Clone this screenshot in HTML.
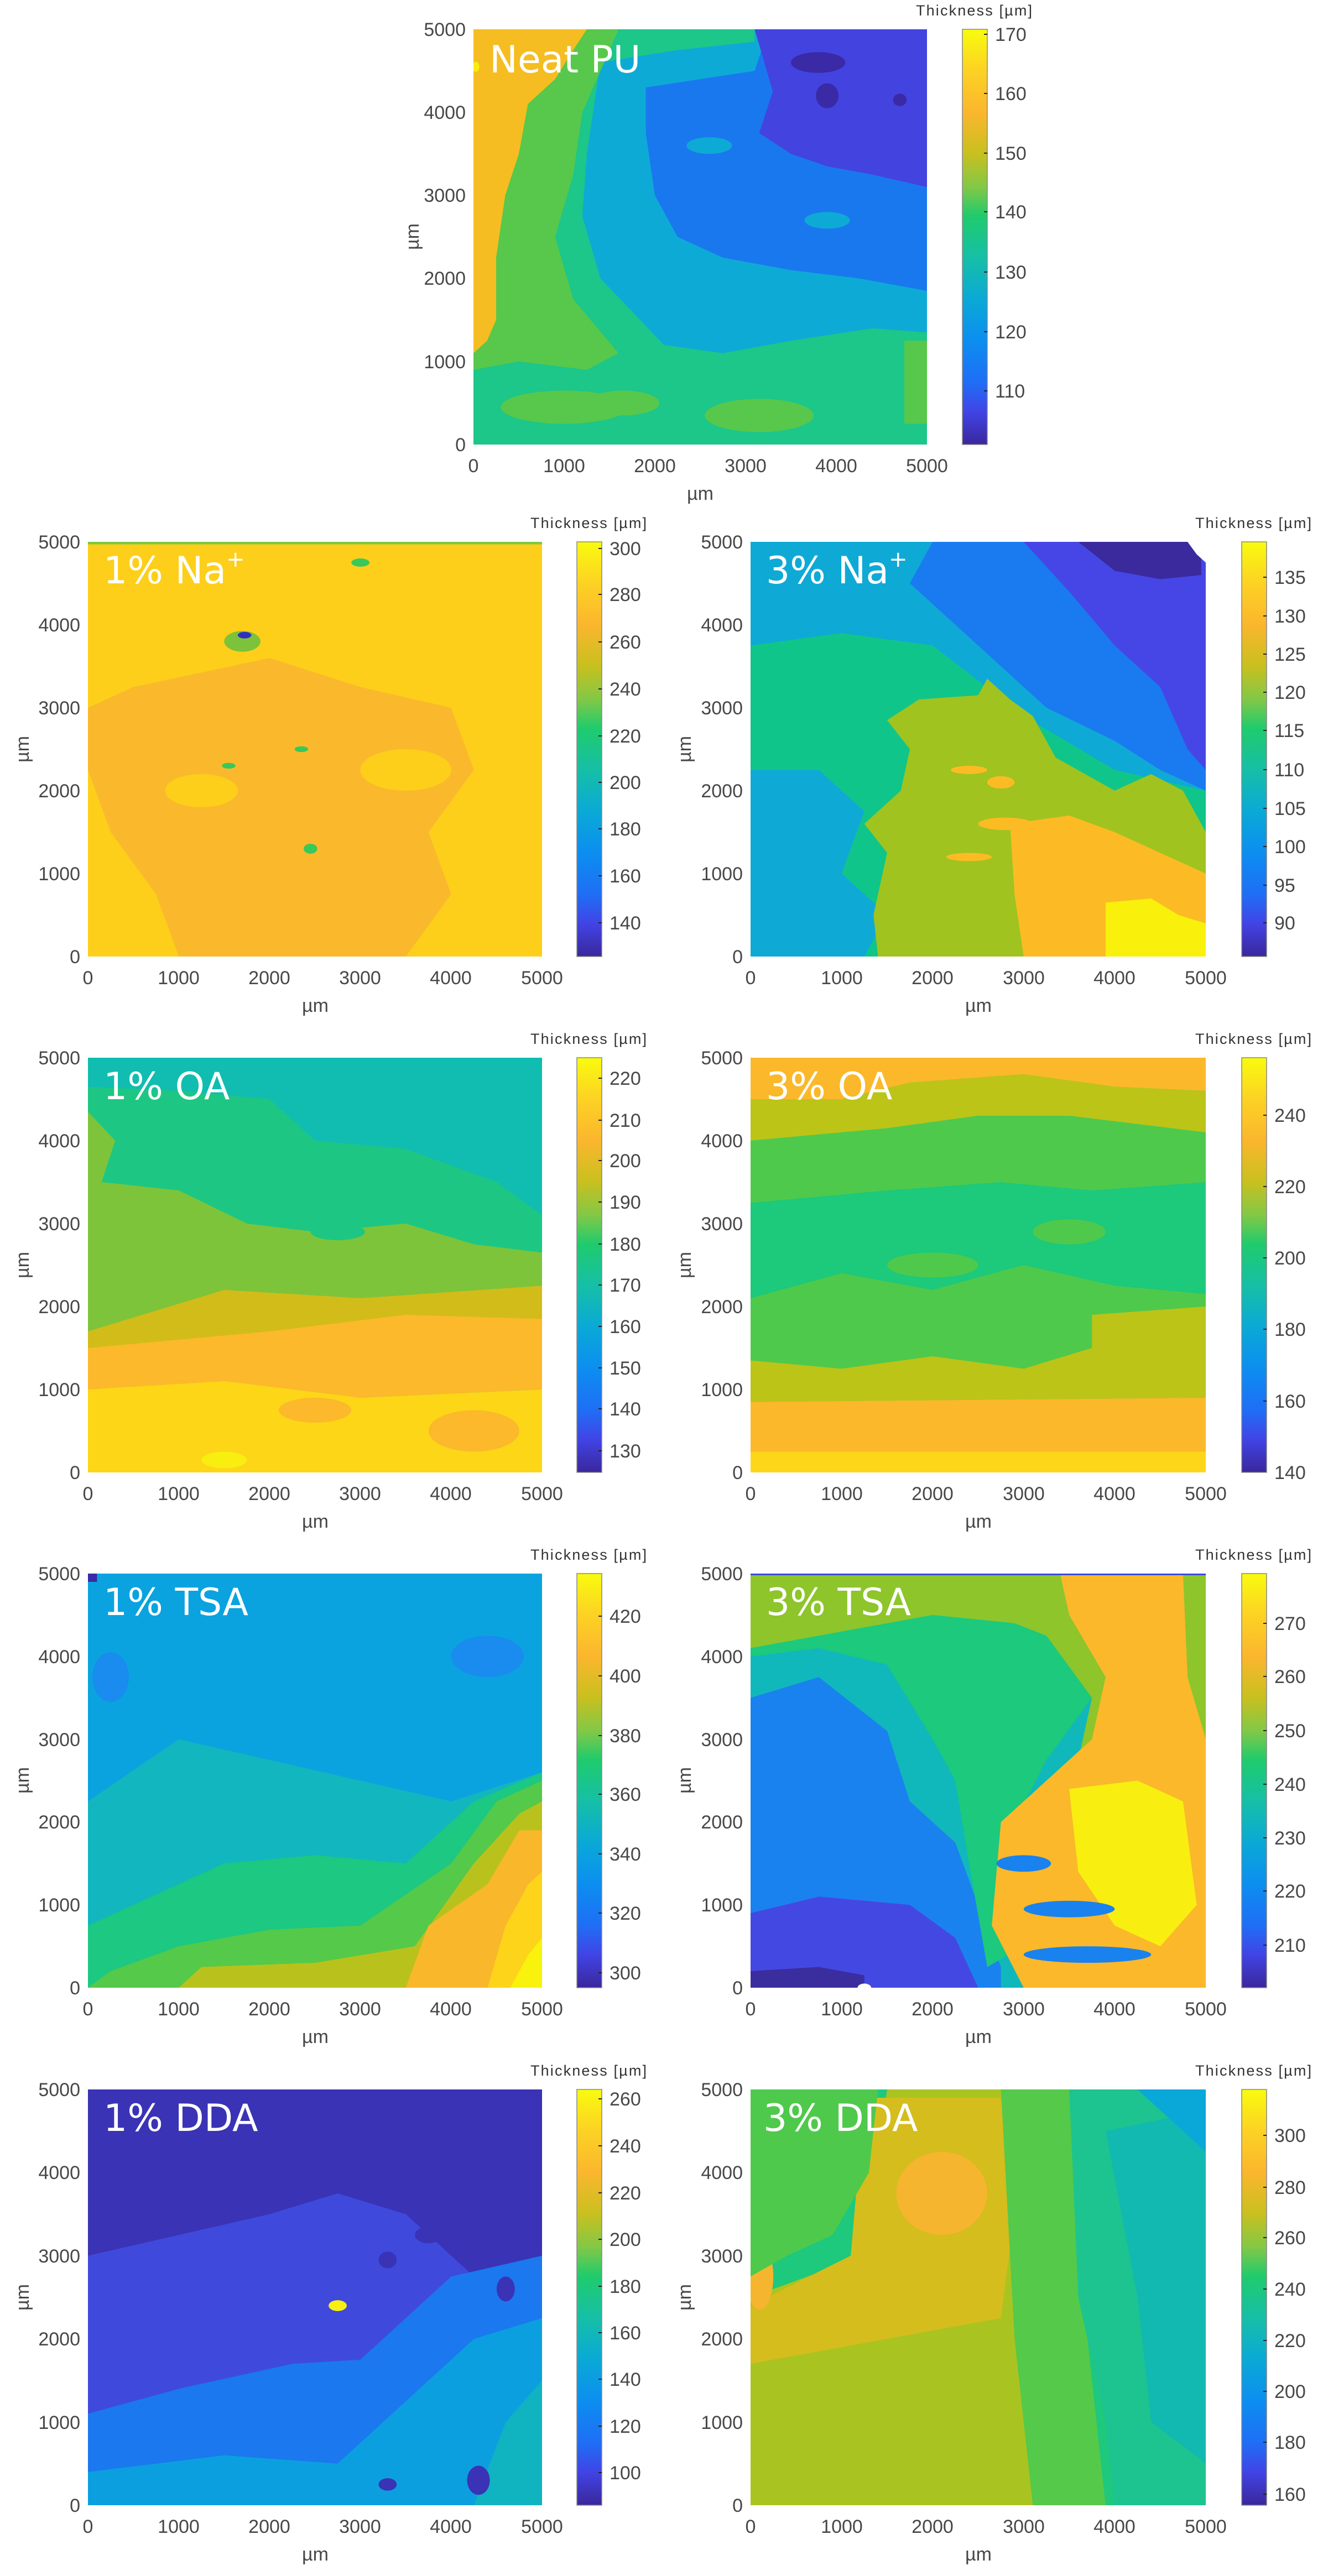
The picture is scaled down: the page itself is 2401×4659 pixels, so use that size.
<!DOCTYPE html>
<html><head><meta charset="utf-8"><style>
html,body{margin:0;padding:0;background:#fff;}
svg text{font-family:"Liberation Sans",Arial,sans-serif;}
.t{font-size:34px;fill:#474747;}
.ti{font-size:27px;fill:#333;}
.an{font-family:"DejaVu Sans",sans-serif !important;font-size:68px;fill:#fff;}
.cb{stroke:#888;stroke-width:1.5;}
</style></head><body>
<svg width="2401" height="4654" viewBox="0 0 2401 4654" xmlns="http://www.w3.org/2000/svg">
<defs>
<linearGradient id="par" x1="0" y1="0" x2="0" y2="1">
<stop offset="0" stop-color="#f9fb0e"/><stop offset="0.1" stop-color="#fcd224"/><stop offset="0.2" stop-color="#fbb62e"/><stop offset="0.3" stop-color="#c8c01f"/><stop offset="0.38" stop-color="#82c846"/><stop offset="0.45" stop-color="#1fcb6d"/><stop offset="0.55" stop-color="#16bfa6"/><stop offset="0.65" stop-color="#0aa9d6"/><stop offset="0.75" stop-color="#0c8ef0"/><stop offset="0.85" stop-color="#1f6ef5"/><stop offset="0.92" stop-color="#4144e6"/><stop offset="1" stop-color="#3a279c"/>
</linearGradient>
</defs>

<!-- ===== Neat PU ===== -->
<svg x="856" y="53" width="820" height="751" viewBox="0 0 100 100" preserveAspectRatio="none">
<rect width="100" height="100" fill="#1dc689"/>
<path d="M28,8 L45,5 L62,3 L62,0 L100,0 L100,73 L88,72 L70,75 L55,78 L42,76 L35,68 L28,60 L24,45 L25,30 Z" fill="#0eaad6"/>
<path d="M38,14 L62,10 L65,0 L100,0 L100,63 L85,60 L70,58 L55,55 L45,50 L40,40 L38,25 Z" fill="#1a78ef"/>
<ellipse cx="52" cy="28" rx="5" ry="2" fill="#0eaad6"/><ellipse cx="78" cy="46" rx="5" ry="2" fill="#0eaad6"/>
<path d="M62,0 L100,0 L100,38 L88,35 L78,33 L70,30 L63,25 L66,15 Z" fill="#4343e0"/>
<ellipse cx="76" cy="8" rx="6" ry="2.5" fill="#3a2aa5"/><ellipse cx="78" cy="16" rx="2.5" ry="3" fill="#3a2aa5"/><ellipse cx="94" cy="17" rx="1.5" ry="1.5" fill="#3a2aa5"/>
<path d="M0,0 L32,0 L28,10 L24,20 L22,35 L18,50 L22,65 L32,78 L25,82 L10,80 L0,82 Z" fill="#57c84b"/>
<path d="M0,0 L25,0 L22,5 L18,12 L12,18 L10,30 L7,40 L5,55 L5,70 L3,75 L0,78 Z" fill="#f5bd21"/>
<ellipse cx="0.5" cy="9" rx="0.8" ry="1.2" fill="#f8ef10"/>
<ellipse cx="20" cy="91" rx="14" ry="4" fill="#57c84b"/><ellipse cx="33" cy="90" rx="8" ry="3" fill="#57c84b"/><ellipse cx="63" cy="93" rx="12" ry="4" fill="#57c84b"/><rect x="95" y="75" width="5" height="20" fill="#57c84b"/>
</svg>
<text class="an" x="885" y="131">Neat PU</text>
<g class="t" text-anchor="end"><text x="842" y="65">5000</text><text x="842" y="215">4000</text><text x="842" y="365">3000</text><text x="842" y="515">2000</text><text x="842" y="666">1000</text><text x="842" y="816">0</text></g>
<g class="t" text-anchor="middle"><text x="856" y="854">0</text><text x="1020" y="854">1000</text><text x="1184" y="854">2000</text><text x="1348" y="854">3000</text><text x="1512" y="854">4000</text><text x="1676" y="854">5000</text><text x="1266" y="904">µm</text></g>
<text class="t" text-anchor="middle" transform="translate(757,428) rotate(-90)">µm</text>
<rect class="cb" x="1740" y="53" width="45" height="751" fill="url(#par)"/>
<g stroke="#222" stroke-width="2"><path d="M1779,62h6M1779,169h6M1779,277h6M1779,383h6M1779,492h6M1779,600h6M1779,707h6"/></g>
<g class="t"><text x="1799" y="74">170</text><text x="1799" y="181">160</text><text x="1799" y="289">150</text><text x="1799" y="395">140</text><text x="1799" y="504">130</text><text x="1799" y="612">120</text><text x="1799" y="719">110</text></g>
<text class="ti" x="1656" y="28" textLength="210">Thickness [µm]</text>

<!-- ===== 1% Na ===== -->
<svg x="159" y="980" width="821" height="750" viewBox="0 0 100 100" preserveAspectRatio="none">
<rect width="100" height="100" fill="#fdcf1a"/>
<path d="M10,35 L40,28 L60,35 L80,40 L85,55 L75,70 L80,85 L70,100 L20,100 L15,85 L5,70 L0,55 L0,40 Z" fill="#fab92c"/>
<ellipse cx="70" cy="55" rx="10" ry="5" fill="#fdcf1a"/><ellipse cx="25" cy="60" rx="8" ry="4" fill="#fdcf1a"/>
<ellipse cx="34" cy="24" rx="4" ry="2.5" fill="#7cc23a"/><ellipse cx="34.5" cy="22.5" rx="1.5" ry="0.8" fill="#3030c0"/>
<ellipse cx="60" cy="5" rx="2" ry="1" fill="#39c85a"/><ellipse cx="31" cy="54" rx="1.5" ry="0.7" fill="#39c85a"/><ellipse cx="47" cy="50" rx="1.5" ry="0.7" fill="#39c85a"/><ellipse cx="49" cy="74" rx="1.5" ry="1.2" fill="#39c85a"/>
<rect width="100" height="0.6" fill="#7cc840"/>
</svg>
<text class="an" x="187" y="1055">1% Na<tspan font-size="40" dy="-30">+</tspan></text>

<!-- ===== 3% Na ===== -->
<svg x="1357" y="980" width="823" height="750" viewBox="0 0 100 100" preserveAspectRatio="none">
<rect width="100" height="100" fill="#10c58a"/>
<path d="M0,0 L100,0 L100,60 L80,55 L60,42 L40,25 L20,22 L0,25 Z" fill="#0fa9d6"/>
<path d="M0,55 L15,55 L25,65 L20,80 L30,90 L25,100 L0,100 Z" fill="#0fa9d6"/>
<path d="M40,0 L100,0 L100,60 L90,55 L80,48 L65,40 L55,30 L45,20 L35,10 Z" fill="#1a7af0"/>
<path d="M60,0 L100,0 L100,55 L96,50 L90,35 L80,25 L70,12 Z" fill="#4646e6"/>
<path d="M72,0 L99,0 L99,8 L90,9 L80,7 Z" fill="#3a2a9e"/>
<path d="M96,0 L100,0 L100,5 L98,3 Z" fill="#fff"/>
<path d="M30,43 L37,38 L50,37 L52,33 L57,38 L62,42 L67,52 L80,60 L88,56 L95,60 L100,70 L100,100 L28,100 L27,90 L30,75 L25,68 L33,60 L35,50 Z" fill="#a0c31f"/>
<path d="M57,68 L70,66 L80,70 L90,75 L100,80 L100,100 L60,100 L58,85 Z" fill="#fcbb24"/>
<ellipse cx="48" cy="55" rx="4" ry="1" fill="#fcbb24"/><ellipse cx="55" cy="58" rx="3" ry="1.5" fill="#fcbb24"/><ellipse cx="48" cy="76" rx="5" ry="1" fill="#fcbb24"/><ellipse cx="56" cy="68" rx="6" ry="1.5" fill="#fcbb24"/>
<path d="M78,87 L88,86 L94,90 L100,92 L100,100 L78,100 Z" fill="#f9f10c"/>
</svg>
<text class="an" x="1385" y="1055">3% Na<tspan font-size="40" dy="-30">+</tspan></text>

<!-- ===== 1% OA ===== -->
<svg x="159" y="1913" width="821" height="750" viewBox="0 0 100 100" preserveAspectRatio="none">
<rect width="100" height="100" fill="#1dc783"/>
<path d="M0,0 L100,0 L100,38 L90,30 L70,22 L50,20 L40,10 L20,8 L0,7 Z" fill="#10bdb0"/>
<path d="M0,13 L6,20 L3,30 L20,32 L35,40 L50,42 L70,40 L85,45 L100,47 L100,60 L60,62 L0,66 Z" fill="#7dc43a"/>
<ellipse cx="10" cy="25" rx="4" ry="3" fill="#1dc783"/><ellipse cx="55" cy="42" rx="6" ry="2" fill="#1dc783"/>
<path d="M0,66 L30,56 L60,58 L100,55 L100,68 L60,68 L0,72 Z" fill="#d2bc1a"/>
<path d="M0,70 L40,66 L70,62 L100,63 L100,80 L60,82 L0,80 Z" fill="#fbb92b"/>
<path d="M0,80 L30,78 L60,82 L100,80 L100,100 L0,100 Z" fill="#fdd617"/>
<ellipse cx="85" cy="90" rx="10" ry="5" fill="#fbb92b"/><ellipse cx="50" cy="85" rx="8" ry="3" fill="#fbb92b"/>
<ellipse cx="30" cy="97" rx="5" ry="2" fill="#f8ee10"/>
</svg>
<text class="an" x="187" y="1988">1% OA</text>

<!-- ===== 3% OA ===== -->
<svg x="1357" y="1913" width="823" height="750" viewBox="0 0 100 100" preserveAspectRatio="none">
<rect width="100" height="100" fill="#1dc97b"/>
<path d="M0,0 L100,0 L100,8 L80,7 L60,4 L35,6 L20,10 L0,10 Z" fill="#fbb82a"/>
<path d="M0,10 L20,10 L35,6 L60,4 L80,7 L100,8 L100,18 L70,14 L50,14 L30,17 L0,20 Z" fill="#bcc418"/>
<path d="M0,20 L30,17 L50,14 L70,14 L100,18 L100,30 L75,32 L55,30 L30,32 L0,35 Z" fill="#4fc94b"/>
<ellipse cx="40" cy="50" rx="10" ry="3" fill="#4fc94b"/><ellipse cx="70" cy="42" rx="8" ry="3" fill="#4fc94b"/>
<path d="M0,58 L20,52 L40,56 L60,50 L80,55 L100,57 L100,72 L80,73 L60,75 L40,72 L20,75 L0,73 Z" fill="#4fc94b"/>
<path d="M0,73 L20,75 L40,72 L60,75 L75,70 L75,62 L100,60 L100,82 L0,83 Z" fill="#bcc418"/>
<path d="M0,83 L100,82 L100,95 L0,95 Z" fill="#fbb82a"/>
<rect x="0" y="95" width="100" height="5" fill="#fdd619"/>
</svg>
<text class="an" x="1385" y="1988">3% OA</text>

<!-- ===== 1% TSA ===== -->
<svg x="159" y="2846" width="821" height="749" viewBox="0 0 100 100" preserveAspectRatio="none">
<rect width="100" height="100" fill="#12b6be"/>
<path d="M0,0 L100,0 L100,48 L80,55 L60,50 L40,45 L20,40 L0,55 Z" fill="#0aa3df"/>
<ellipse cx="88" cy="20" rx="8" ry="5" fill="#1a8bef"/><ellipse cx="5" cy="25" rx="4" ry="6" fill="#1a8bef"/>
<path d="M0,85 L10,80 L30,70 L50,68 L70,70 L85,55 L100,48 L100,100 L0,100 Z" fill="#1cc882"/>
<path d="M0,100 L5,96 L20,90 L40,86 L60,85 L80,70 L90,55 L100,50 L100,100 Z" fill="#55c94a"/>
<path d="M20,100 L25,95 L50,94 L72,90 L85,70 L95,58 L100,55 L100,100 Z" fill="#b9c21d"/>
<path d="M70,100 L75,85 L88,75 L95,62 L100,62 L100,100 Z" fill="#f9b72c"/>
<path d="M88,100 L92,85 L97,75 L100,72 L100,100 Z" fill="#fdd419"/>
<path d="M93,100 L97,92 L100,88 L100,100 Z" fill="#f8f20d"/>
<rect x="0" y="0" width="2" height="2" fill="#3a2aa5"/>
</svg>
<text class="an" x="187" y="2921">1% TSA</text>

<!-- ===== 3% TSA ===== -->
<svg x="1357" y="2846" width="823" height="749" viewBox="0 0 100 100" preserveAspectRatio="none">
<rect width="100" height="100" fill="#10b8bb"/>
<path d="M0,30 L15,25 L30,38 L35,55 L45,65 L50,80 L55,95 L55,100 L0,100 Z" fill="#1a82ee"/>
<path d="M0,82 L15,78 L35,80 L45,88 L50,100 L0,100 Z" fill="#4448e3"/>
<path d="M0,96 L15,95 L25,97 L25,100 L0,100 Z" fill="#3a2d9e"/>
<path d="M0,10 L60,5 L70,15 L75,30 L65,45 L58,60 L55,75 L60,90 L52,95 L48,70 L45,50 L40,40 L30,22 L15,18 L0,20 Z" fill="#1cc97d"/>
<path d="M0,0 L100,0 L100,60 L80,55 L72,45 L75,30 L65,15 L58,12 L40,10 L20,14 L0,18 Z" fill="#8dc52b"/>
<path d="M68,0 L95,0 L96,25 L100,40 L100,100 L60,100 L53,85 L55,60 L65,50 L75,40 L78,25 L70,10 Z" fill="#fbb82a"/>
<path d="M70,52 L85,50 L95,55 L98,80 L90,90 L80,85 L72,72 Z" fill="#f8ef10"/>
<ellipse cx="60" cy="70" rx="6" ry="2" fill="#1a82ee"/><ellipse cx="70" cy="81" rx="10" ry="2" fill="#1a82ee"/><ellipse cx="74" cy="92" rx="14" ry="2" fill="#1a82ee"/>
<rect width="100" height="0.4" fill="#3a4ad8"/>
<ellipse cx="25" cy="100" rx="1.5" ry="1" fill="#fff"/>
</svg>
<text class="an" x="1385" y="2921">3% TSA</text>

<!-- ===== 1% DDA ===== -->
<svg x="159" y="3779" width="821" height="752" viewBox="0 0 100 100" preserveAspectRatio="none">
<rect width="100" height="100" fill="#3f4adc"/>
<path d="M0,0 L100,0 L100,40 L85,45 L70,30 L55,25 L40,30 L20,35 L0,40 Z" fill="#3a33b5"/>
<path d="M0,78 L20,72 L45,66 L60,65 L70,55 L80,45 L100,40 L100,100 L0,100 Z" fill="#1b78ef"/>
<path d="M0,92 L30,88 L55,90 L70,75 L85,60 L100,55 L100,100 L0,100 Z" fill="#0c9fe0"/>
<path d="M85,100 L92,80 L100,70 L100,100 Z" fill="#10b3c0"/>
<ellipse cx="86" cy="94" rx="2.5" ry="3.5" fill="#3a33b5"/><ellipse cx="66" cy="95" rx="2" ry="1.5" fill="#3a33b5"/><ellipse cx="66" cy="41" rx="2" ry="2" fill="#3a33b5"/><ellipse cx="92" cy="48" rx="2" ry="3" fill="#3a33b5"/><ellipse cx="75" cy="35" rx="3" ry="2" fill="#3a33b5"/>
<ellipse cx="55" cy="52" rx="2" ry="1.3" fill="#f8f00e"/>
</svg>
<text class="an" x="187" y="3854">1% DDA</text>

<!-- ===== 3% DDA ===== -->
<svg x="1357" y="3779" width="823" height="752" viewBox="0 0 100 100" preserveAspectRatio="none">
<rect width="100" height="100" fill="#1ec87d"/>
<path d="M0,50 L25,40 L30,0 L55,0 L60,30 L62,60 L68,100 L0,100 Z" fill="#a9c420"/>
<path d="M25,2 L55,2 L58,30 L55,55 L40,58 L20,62 L0,66 L0,52 L22,40 Z" fill="#d4bd1c"/>
<ellipse cx="42" cy="25" rx="10" ry="10" fill="#f6b52e"/><ellipse cx="2" cy="45" rx="3" ry="8" fill="#f6b52e"/>
<path d="M0,0 L28,0 L26,20 L18,35 L8,40 L0,45 Z" fill="#4fc94b"/>
<path d="M55,0 L70,0 L72,40 L75,70 L78,100 L62,100 L58,60 Z" fill="#55c94a"/>
<path d="M70,0 L100,0 L100,100 L80,100 L78,80 L72,50 Z" fill="#1dc48f"/>
<path d="M78,10 L100,5 L100,90 L88,80 L85,50 Z" fill="#12b9b0"/>
<path d="M85,0 L100,0 L100,15 Z" fill="#0aa8d8"/>
</svg>
<text class="an" x="1380" y="3854">3% DDA</text>

<!-- ===== Axes ===== -->
<g class="t" text-anchor="end">
<text x="145" y="992">5000</text><text x="145" y="1142">4000</text><text x="145" y="1292">3000</text><text x="145" y="1442">2000</text><text x="145" y="1592">1000</text><text x="145" y="1742">0</text>
<text x="145" y="1925">5000</text><text x="145" y="2075">4000</text><text x="145" y="2225">3000</text><text x="145" y="2375">2000</text><text x="145" y="2525">1000</text><text x="145" y="2675">0</text>
<text x="145" y="2858">5000</text><text x="145" y="3008">4000</text><text x="145" y="3158">3000</text><text x="145" y="3307">2000</text><text x="145" y="3457">1000</text><text x="145" y="3607">0</text>
<text x="145" y="3791">5000</text><text x="145" y="3941">4000</text><text x="145" y="4092">3000</text><text x="145" y="4242">2000</text><text x="145" y="4393">1000</text><text x="145" y="4543">0</text>
<text x="1343" y="992">5000</text><text x="1343" y="1142">4000</text><text x="1343" y="1292">3000</text><text x="1343" y="1442">2000</text><text x="1343" y="1592">1000</text><text x="1343" y="1742">0</text>
<text x="1343" y="1925">5000</text><text x="1343" y="2075">4000</text><text x="1343" y="2225">3000</text><text x="1343" y="2375">2000</text><text x="1343" y="2525">1000</text><text x="1343" y="2675">0</text>
<text x="1343" y="2858">5000</text><text x="1343" y="3008">4000</text><text x="1343" y="3158">3000</text><text x="1343" y="3307">2000</text><text x="1343" y="3457">1000</text><text x="1343" y="3607">0</text>
<text x="1343" y="3791">5000</text><text x="1343" y="3941">4000</text><text x="1343" y="4092">3000</text><text x="1343" y="4242">2000</text><text x="1343" y="4393">1000</text><text x="1343" y="4543">0</text>
</g>
<g class="t" text-anchor="middle">
<text x="159" y="1780">0</text><text x="323" y="1780">1000</text><text x="487" y="1780">2000</text><text x="651" y="1780">3000</text><text x="815" y="1780">4000</text><text x="980" y="1780">5000</text><text x="570" y="1830">µm</text>
<text x="1357" y="1780">0</text><text x="1522" y="1780">1000</text><text x="1686" y="1780">2000</text><text x="1851" y="1780">3000</text><text x="2015" y="1780">4000</text><text x="2180" y="1780">5000</text><text x="1769" y="1830">µm</text>
<text x="159" y="2713">0</text><text x="323" y="2713">1000</text><text x="487" y="2713">2000</text><text x="651" y="2713">3000</text><text x="815" y="2713">4000</text><text x="980" y="2713">5000</text><text x="570" y="2763">µm</text>
<text x="1357" y="2713">0</text><text x="1522" y="2713">1000</text><text x="1686" y="2713">2000</text><text x="1851" y="2713">3000</text><text x="2015" y="2713">4000</text><text x="2180" y="2713">5000</text><text x="1769" y="2763">µm</text>
<text x="159" y="3645">0</text><text x="323" y="3645">1000</text><text x="487" y="3645">2000</text><text x="651" y="3645">3000</text><text x="815" y="3645">4000</text><text x="980" y="3645">5000</text><text x="570" y="3695">µm</text>
<text x="1357" y="3645">0</text><text x="1522" y="3645">1000</text><text x="1686" y="3645">2000</text><text x="1851" y="3645">3000</text><text x="2015" y="3645">4000</text><text x="2180" y="3645">5000</text><text x="1769" y="3695">µm</text>
<text x="159" y="4581">0</text><text x="323" y="4581">1000</text><text x="487" y="4581">2000</text><text x="651" y="4581">3000</text><text x="815" y="4581">4000</text><text x="980" y="4581">5000</text><text x="570" y="4631">µm</text>
<text x="1357" y="4581">0</text><text x="1522" y="4581">1000</text><text x="1686" y="4581">2000</text><text x="1851" y="4581">3000</text><text x="2015" y="4581">4000</text><text x="2180" y="4581">5000</text><text x="1769" y="4631">µm</text>
</g>
<g class="t" text-anchor="middle">
<text transform="translate(52,1355) rotate(-90)">µm</text><text transform="translate(1249,1355) rotate(-90)">µm</text>
<text transform="translate(52,2288) rotate(-90)">µm</text><text transform="translate(1249,2288) rotate(-90)">µm</text>
<text transform="translate(52,3220) rotate(-90)">µm</text><text transform="translate(1249,3220) rotate(-90)">µm</text>
<text transform="translate(52,4155) rotate(-90)">µm</text><text transform="translate(1249,4155) rotate(-90)">µm</text>
</g>

<!-- Colorbars -->
<rect class="cb" x="1043" y="980" width="45" height="750" fill="url(#par)"/>
<rect class="cb" x="2245" y="980" width="45" height="750" fill="url(#par)"/>
<rect class="cb" x="1043" y="1913" width="45" height="750" fill="url(#par)"/>
<rect class="cb" x="2245" y="1913" width="45" height="750" fill="url(#par)"/>
<rect class="cb" x="1043" y="2846" width="45" height="749" fill="url(#par)"/>
<rect class="cb" x="2245" y="2846" width="45" height="749" fill="url(#par)"/>
<rect class="cb" x="1043" y="3779" width="45" height="752" fill="url(#par)"/>
<rect class="cb" x="2245" y="3779" width="45" height="752" fill="url(#par)"/>

<g class="ti"><text x="959" y="955" textLength="210">Thickness [µm]</text><text x="2161" y="955" textLength="210">Thickness [µm]</text>
<text x="959" y="1888" textLength="210">Thickness [µm]</text><text x="2161" y="1888" textLength="210">Thickness [µm]</text>
<text x="959" y="2821" textLength="210">Thickness [µm]</text><text x="2161" y="2821" textLength="210">Thickness [µm]</text>
<text x="959" y="3754" textLength="210">Thickness [µm]</text><text x="2161" y="3754" textLength="210">Thickness [µm]</text></g>

<g stroke="#222" stroke-width="2">
<path d="M1082,992h6M1082,1075h6M1082,1161h6M1082,1246h6M1082,1331h6M1082,1415h6M1082,1499h6M1082,1584h6M1082,1669h6"/>
<path d="M2284,1044h6M2284,1114h6M2284,1183h6M2284,1252h6M2284,1321h6M2284,1392h6M2284,1462h6M2284,1531h6M2284,1601h6M2284,1669h6"/>
<path d="M1082,1950h6M1082,2026h6M1082,2099h6M1082,2174h6M1082,2250h6M1082,2324h6M1082,2399h6M1082,2474h6M1082,2548h6M1082,2624h6"/>
<path d="M2284,2017h6M2284,2146h6M2284,2275h6M2284,2404h6M2284,2534h6"/>
<path d="M1082,2923h6M1082,3031h6M1082,3139h6M1082,3245h6M1082,3353h6M1082,3460h6M1082,3568h6"/>
<path d="M2284,2936h6M2284,3032h6M2284,3130h6M2284,3227h6M2284,3324h6M2284,3420h6M2284,3518h6"/>
<path d="M1082,3796h6M1082,3881h6M1082,3966h6M1082,4050h6M1082,4135h6M1082,4219h6M1082,4303h6M1082,4388h6M1082,4472h6"/>
<path d="M2284,3862h6M2284,3956h6M2284,4047h6M2284,4140h6M2284,4233h6M2284,4325h6M2284,4417h6M2284,4511h6"/>
</g>
<g class="t">
<text x="1102" y="1004">300</text><text x="1102" y="1087">280</text><text x="1102" y="1173">260</text><text x="1102" y="1258">240</text><text x="1102" y="1343">220</text><text x="1102" y="1427">200</text><text x="1102" y="1511">180</text><text x="1102" y="1596">160</text><text x="1102" y="1681">140</text>
<text x="2304" y="1056">135</text><text x="2304" y="1126">130</text><text x="2304" y="1195">125</text><text x="2304" y="1264">120</text><text x="2304" y="1333">115</text><text x="2304" y="1404">110</text><text x="2304" y="1474">105</text><text x="2304" y="1543">100</text><text x="2304" y="1613">95</text><text x="2304" y="1681">90</text>
<text x="1102" y="1962">220</text><text x="1102" y="2038">210</text><text x="1102" y="2111">200</text><text x="1102" y="2186">190</text><text x="1102" y="2262">180</text><text x="1102" y="2336">170</text><text x="1102" y="2411">160</text><text x="1102" y="2486">150</text><text x="1102" y="2560">140</text><text x="1102" y="2636">130</text>
<text x="2304" y="2029">240</text><text x="2304" y="2158">220</text><text x="2304" y="2287">200</text><text x="2304" y="2416">180</text><text x="2304" y="2546">160</text><text x="2304" y="2675">140</text>
<text x="1102" y="2935">420</text><text x="1102" y="3043">400</text><text x="1102" y="3151">380</text><text x="1102" y="3257">360</text><text x="1102" y="3365">340</text><text x="1102" y="3472">320</text><text x="1102" y="3580">300</text>
<text x="2304" y="2948">270</text><text x="2304" y="3044">260</text><text x="2304" y="3142">250</text><text x="2304" y="3239">240</text><text x="2304" y="3336">230</text><text x="2304" y="3432">220</text><text x="2304" y="3530">210</text>
<text x="1102" y="3808">260</text><text x="1102" y="3893">240</text><text x="1102" y="3978">220</text><text x="1102" y="4062">200</text><text x="1102" y="4147">180</text><text x="1102" y="4231">160</text><text x="1102" y="4315">140</text><text x="1102" y="4400">120</text><text x="1102" y="4484">100</text>
<text x="2304" y="3874">300</text><text x="2304" y="3968">280</text><text x="2304" y="4059">260</text><text x="2304" y="4152">240</text><text x="2304" y="4245">220</text><text x="2304" y="4337">200</text><text x="2304" y="4429">180</text><text x="2304" y="4523">160</text>
</g>
</svg>
</body></html>
